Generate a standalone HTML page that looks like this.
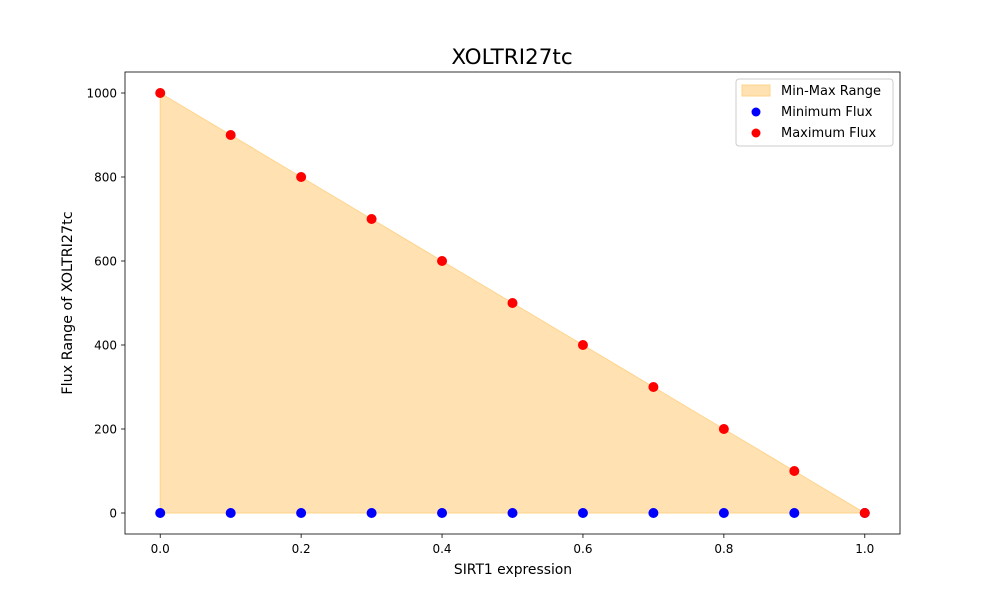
<!DOCTYPE html>
<html><head><meta charset="utf-8"><style>
body{margin:0;background:#fff;}
text{font-family:"DejaVu Sans","Liberation Sans",sans-serif;}
</style></head><body>
<svg id="chart" width="1000" height="600" viewBox="0 0 1000 600" xmlns="http://www.w3.org/2000/svg">
<rect width="1000" height="600" fill="#fff"/>
<text x="512" y="64" text-anchor="middle" font-size="21.5">XOLTRI27tc</text>
<g id="plot"></g>
<rect x="125" y="72" width="775" height="462" fill="none" stroke="#000" stroke-width="0.8"/>
<text x="513" y="574" text-anchor="middle" font-size="13.9">SIRT1 expression</text>
<text transform="translate(72,303) rotate(-90)" text-anchor="middle" font-size="14.3">Flux Range of XOLTRI27tc</text>
<g>
<rect x="736" y="79" width="157" height="67" fill="#fff" stroke="#ccc" rx="3"/>
<rect x="742" y="85" width="28" height="11" fill="#ffe1b2" stroke="#ffd48a"/>
<text x="781" y="95" font-size="13">Min-Max Range</text>
<circle cx="756" cy="112" r="4.5" fill="#0000ff"/>
<text x="781" y="116" font-size="13">Minimum Flux</text>
<circle cx="756" cy="133" r="4.5" fill="#ff0000"/>
<text x="781" y="137" font-size="13">Maximum Flux</text>
</g>
</svg>
<script>
const xValues=[0,0.1,0.2,0.3,0.4,0.5,0.6,0.7,0.8,0.9,1.0];
const minFlux=[0,0,0,0,0,0,0,0,0,0,0];
const maxFlux=[1000,900,800,700,600,500,400,300,200,100,0];
const xTicks=[0,0.2,0.4,0.6,0.8,1.0];
const xTickLabels=["0.0","0.2","0.4","0.6","0.8","1.0"];
const yTicks=[0,200,400,600,800,1000];
const yTickLabels=["0","200","400","600","800","1000"];
const NS="http://www.w3.org/2000/svg";
const sx=v=>125+(v+0.05)/1.1*775;
const sy=v=>534-(v+50)/1100*462;
const g=document.getElementById('plot');
function mk(t,a){const e=document.createElementNS(NS,t);for(const k in a)e.setAttribute(k,a[k]);g.appendChild(e);return e;}
let d='M'+xValues.map((x,i)=>sx(x)+','+sy(maxFlux[i])).join(' L');
for(let i=xValues.length-1;i>=0;i--)d+=' L'+sx(xValues[i])+','+sy(minFlux[i]);
const area=mk('path',{d:d+'Z',fill:'#ffe1b2',stroke:'#ffd48a','stroke-width':1});


xTicks.forEach((t,i)=>{
 const l=mk('line',{x1:sx(t),x2:sx(t),y1:534,y2:538,stroke:'#000','stroke-width':0.8});
 
 
 const tx=mk('text',{x:sx(t),y:553,'text-anchor':'middle','font-size':12});
 tx.textContent=xTickLabels[i];
 
 
});
yTicks.forEach((t,i)=>{
 const l=mk('line',{x1:121,x2:125,y1:sy(t),y2:sy(t),stroke:'#000','stroke-width':0.8});
 
 
 const tx=mk('text',{x:117,y:sy(t)+4.5,'text-anchor':'end','font-size':12});
 tx.textContent=yTickLabels[i];
 
 
});
xValues.forEach((x,i)=>{
 const c=mk('circle',{cx:sx(x),cy:sy(minFlux[i]),r:5,fill:'#0000ff'});
 
 
});
xValues.forEach((x,i)=>{
 const c=mk('circle',{cx:sx(x),cy:sy(maxFlux[i]),r:5,fill:'#ff0000'});
 
 
});
</script>
</body></html>
